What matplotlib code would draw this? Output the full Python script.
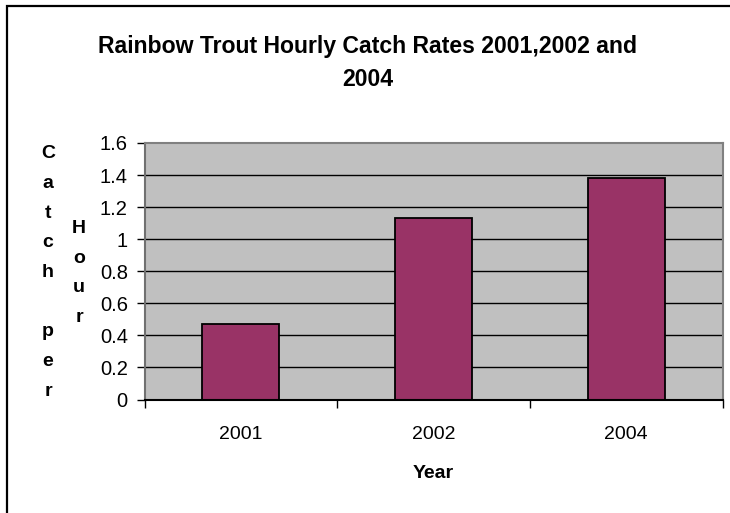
import matplotlib
matplotlib.use("Agg")
import matplotlib.pyplot as plt
from matplotlib.patches import Rectangle
import numpy as np

years = ["2001", "2002", "2004"]
catch_rates = [0.47, 1.13, 1.38]
yticks = [0, 0.2, 0.4, 0.6, 0.8, 1.0, 1.2, 1.4, 1.6]
ytick_labels = ["0", "0.2", "0.4", "0.6", "0.8", "1", "1.2", "1.4", "1.6"]

plt.rcParams['font.family'] = ['Liberation Sans', 'DejaVu Sans']

W, H = 730, 513
fig = plt.figure(figsize=(7.3, 5.13), dpi=100)
fig.patch.set_facecolor('white')

# figure border (left and top visible)
fig.add_artist(Rectangle((7 / W, -0.1), 1.2, (H - 6) / H + 0.1, transform=fig.transFigure,
                         fill=False, edgecolor='black', linewidth=1.6))

left, right, top, bottom = 144.5, 722.5, 143, 399.5
ax = fig.add_axes([left / W, 1 - bottom / H, (right - left) / W, (bottom - top) / H])
ax.set_facecolor('#C0C0C0')

x = np.arange(len(years))
ax.bar(x, catch_rates, width=0.4, color='#993366', edgecolor='black', linewidth=1.3, zorder=3)

ax.set_xlim(-0.5, len(years) - 0.5)
ax.set_ylim(0, 1.6)
ax.set_yticks(yticks)
ax.set_yticklabels(ytick_labels)
for yv in yticks[1:-1]:
    ax.axhline(yv, color='black', linewidth=1.0, zorder=1)

ax.set_xticks(x)
ax.set_xticklabels(years)
ax.set_xticks(np.arange(len(years) + 1) - 0.5, minor=True)
ax.tick_params(axis='x', which='major', length=0, pad=19, labelsize=14)
ax.tick_params(axis='x', which='minor', length=6, width=1, color='black', direction='out')
ax.tick_params(axis='y', length=6, width=1, color='black', direction='out', pad=6, labelsize=14.5)

ax.spines['top'].set_color('#808080')
ax.spines['right'].set_color('#808080')
ax.spines['left'].set_color('#707070')
ax.spines['bottom'].set_color('black')
for s in ax.spines.values():
    s.set_linewidth(1.5)
ax.spines['bottom'].set_zorder(5)

fig.text(368 / W, 1 - 63 / H, "Rainbow Trout Hourly Catch Rates 2001,2002 and\n2004",
         ha='center', va='center', fontsize=16.6, fontweight='bold', linespacing=1.55)

fig.text(433 / W, 1 - 473 / H, "Year", ha='center', va='center', fontsize=14, fontweight='bold')

fig.text(48 / W, 1 - 272.5 / H, "C\na\nt\nc\nh\n\np\ne\nr", ha='center', va='center',
         fontsize=14, fontweight='bold', linespacing=1.98)
fig.text(79 / W, 1 - 273 / H, "H\no\nu\nr", ha='center', va='center',
         fontsize=14, fontweight='bold', linespacing=1.98)

fig.savefig("out.png", dpi=100)
